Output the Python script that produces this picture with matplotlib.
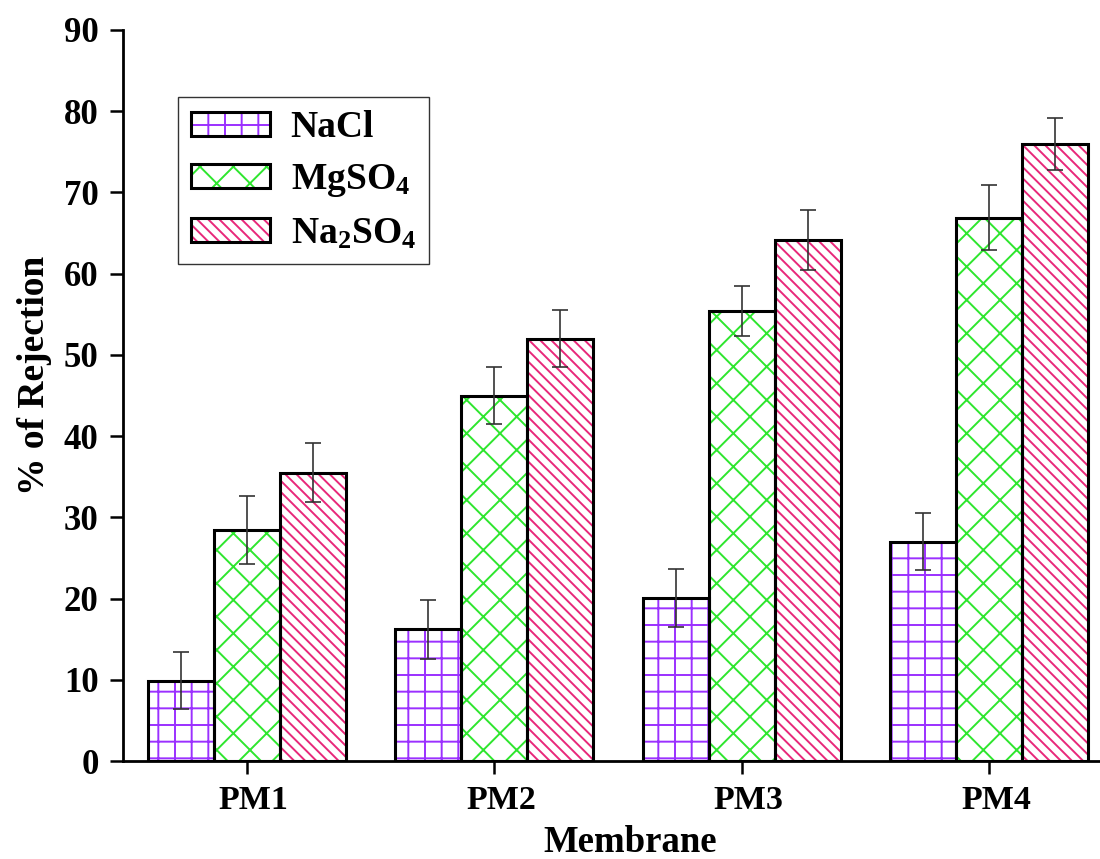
import matplotlib
matplotlib.use("Agg")
import matplotlib.pyplot as plt
import matplotlib.transforms as mtransforms
import matplotlib.legend_handler as lh
from matplotlib.patches import Patch, Rectangle
import numpy as np

membranes = ["PM1", "PM2", "PM3", "PM4"]
series = ["NaCl", "MgSO$_4$", "Na$_2$SO$_4$"]
nacl = [9.9, 16.2, 20.1, 27.0]
nacl_err = [3.5, 3.6, 3.6, 3.5]
mgso4 = [28.4, 45.0, 55.4, 66.9]
mgso4_err = [4.2, 3.5, 3.1, 4.0]
na2so4 = [35.5, 52.0, 64.1, 76.0]
na2so4_err = [3.6, 3.5, 3.7, 3.2]

colors = ["#9B30FF", "#2EE62E", "#E8287A"]
hatches = ["+", "x", "\\\\\\"]

plt.rcParams['font.family'] = ['Liberation Serif', 'DejaVu Serif']
plt.rcParams['font.weight'] = 'bold'
plt.rcParams['mathtext.fontset'] = 'custom'
plt.rcParams['mathtext.rm'] = 'Liberation Serif:bold'
plt.rcParams['mathtext.it'] = 'Liberation Serif:bold'
plt.rcParams['mathtext.bf'] = 'Liberation Serif:bold'
plt.rcParams['hatch.linewidth'] = 1.4

fig = plt.figure(figsize=(11, 8.59), dpi=100)
ax = fig.add_axes([123/1100, 1 - 761/859, 990/1100, 731/859])

x = np.arange(1, len(membranes) + 1)
w = 0.267
data = [(nacl, nacl_err), (mgso4, mgso4_err), (na2so4, na2so4_err)]
for i, ((vals, errs), c, h) in enumerate(zip(data, colors, hatches)):
    pos = x + (i - 1) * w
    ax.bar(pos, vals, w, color="white", edgecolor=c, hatch=h, linewidth=0, zorder=2)
    ax.bar(pos, vals, w, fill=False, edgecolor="black", linewidth=2.2, zorder=3)
    ax.errorbar(pos, vals, yerr=errs, fmt="none", ecolor="#333333", elinewidth=1.2,
                capsize=5.5, capthick=1.2, zorder=4)


class HatchBox(lh.HandlerPatch):
    def create_artists(self, legend, orig_handle, xdescent, ydescent, width, height, fontsize, trans):
        r1 = Rectangle((-xdescent, -ydescent), width, height, facecolor="white",
                       edgecolor=orig_handle.get_edgecolor(), hatch=orig_handle.get_hatch(),
                       linewidth=0, transform=trans)
        r2 = Rectangle((-xdescent, -ydescent), width, height, fill=False,
                       edgecolor="black", linewidth=2.2, transform=trans)
        return [r1, r2]


handles = [Patch(facecolor="white", edgecolor=c, hatch=h, linewidth=0) for c, h in zip(colors, hatches)]
leg = ax.legend(handles, series, loc="upper left", bbox_to_anchor=(0.0556, 0.908),
                borderaxespad=0, fancybox=False, edgecolor="#333333", framealpha=1,
                fontsize=27, handlelength=2.1, handleheight=0.6, labelspacing=0.45,
                handletextpad=0.55, borderpad=0.35,
                handler_map={Patch: HatchBox()})
leg.get_frame().set_linewidth(1.0)

ax.set_xlim(0.5, 4.5)
ax.set_ylim(0, 90)
ax.set_yticks(np.arange(0, 91, 10))
ax.set_xticks(x)
ax.set_xticklabels(membranes)
ax.tick_params(axis="both", width=1.8, length=9.5, direction="out")
ax.tick_params(axis="x", labelsize=24.5, pad=8)
ax.tick_params(axis="y", labelsize=25, pad=8)
offset = mtransforms.ScaledTranslation(7/100, 0, fig.dpi_scale_trans)
for lab in ax.get_xticklabels():
    lab.set_transform(lab.get_transform() + offset)
for lab in ax.get_xticklabels() + ax.get_yticklabels():
    lab.set_fontweight("bold")
ax.spines["top"].set_visible(False)
ax.spines["right"].set_visible(False)
ax.spines["left"].set_linewidth(2.0)
ax.spines["bottom"].set_linewidth(2.0)

ax.set_xlabel("Membrane", fontsize=26.5, fontweight="bold")
ax.set_ylabel("% of Rejection", fontsize=27, fontweight="bold")
ax.xaxis.set_label_coords(0.512, -0.087)
ax.yaxis.set_label_coords(-0.072, 0.527)

fig.savefig("out.png", dpi=100)
